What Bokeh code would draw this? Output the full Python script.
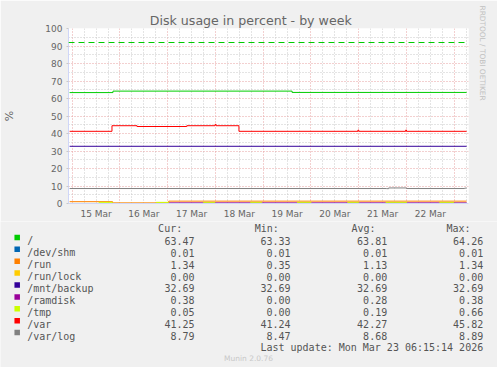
from bokeh.plotting import figure
from bokeh.models import Range1d, FixedTicker, Span, Title
from bokeh.core.properties import value
from bokeh.embed import file_html
from bokeh.resources import INLINE

# ---------------- data (x = hours since 14 Mar 00:00) ----------------
X_START, X_END = 22.15, 223.15
DAY_MIDNIGHTS = [24, 48, 72, 96, 120, 144, 168, 192, 216]
DAY_NOONS = [36, 60, 84, 108, 132, 156, 180, 204]
DAY_LABELS = ["15 Mar", "16 Mar", "17 Mar", "18 Mar", "19 Mar", "20 Mar", "21 Mar", "22 Mar"]
SIX_HOURS = [h for h in range(24, 223, 6) if h % 24]
Y_TICKS = [0, 10, 20, 30, 40, 50, 60, 70, 80, 90, 100]
Y_MINOR = [5, 15, 25, 35, 45, 55, 65, 75, 85, 95]
WARN_ROOT = 92

NAMES = ["/", "/dev/shm", "/run", "/run/lock", "/mnt/backup", "/ramdisk", "/tmp", "/var", "/var/log"]
COLORS = ["#00cc00", "#0066b3", "#ff8000", "#ffcc00", "#330099", "#990099", "#ccff00", "#ff0000", "#808080"]
CUR = [63.47, 0.01, 1.34, 0.00, 32.69, 0.38, 0.05, 41.25, 8.79]
MIN = [63.33, 0.01, 0.35, 0.00, 32.69, 0.00, 0.00, 41.24, 8.47]
AVG = [63.81, 0.01, 1.13, 0.00, 32.69, 0.28, 0.19, 42.27, 8.68]
MAX = [64.26, 0.01, 1.34, 0.00, 32.69, 0.38, 0.66, 45.82, 8.89]
LAST_UPDATE = "Last update: Mon Mar 23 06:15:14 2026"

ROOT_T = [22.7, 44.5, 134.5, 222.2]
ROOT_V = [63.38, 64.22, 63.47, 63.47]
SHM_T = [22.7, 222.2]
SHM_V = [0.01, 0.01]
RUN_T = [22.7, 44.3, 72.5, 222.2]
RUN_V = [1.05, 0.35, 1.34, 1.34]
LOCK_T = [22.7, 222.2]
LOCK_V = [0.00, 0.00]
BACKUP_T = [22.7, 222.2]
BACKUP_V = [32.69, 32.69]
RAMDISK_T = [22.7, 72.5, 222.2]
RAMDISK_V = [0.00, 0.38, 0.38]
TMP_T = [22.7, 37.5, 44.2, 66.2, 72.5, 90.0, 95.7, 113.7, 119.2, 137.2, 144.0,
         162.5, 168.0, 181.7, 192.0, 208.7, 215.7, 222.2]
TMP_V = [0.02, 0.66, 0.02, 0.66, 0.02, 0.66, 0.02, 0.66, 0.02, 0.66, 0.02,
         0.66, 0.02, 0.66, 0.02, 0.66, 0.05, 0.05]
VAR_T = [22.7, 44.0, 56.6, 81.6, 95.8, 96.3, 107.8, 167.6, 168.0, 191.6, 192.0, 222.2]
VAR_V = [41.25, 44.45, 44.0, 44.45, 45.2, 44.45, 41.25, 42.0, 41.25, 42.0, 41.25, 41.25]
VARLOG_T = [22.7, 182.0, 183.0, 192.0, 221.2, 222.2]
VARLOG_V = [8.55, 8.47, 8.89, 8.55, 8.79, 8.79]

SERIES_T = [ROOT_T, SHM_T, RUN_T, LOCK_T, BACKUP_T, RAMDISK_T, TMP_T, VAR_T, VARLOG_T]
SERIES_V = [ROOT_V, SHM_V, RUN_V, LOCK_V, BACKUP_V, RAMDISK_V, TMP_V, VAR_V, VARLOG_V]

FONT = "#666666"
AXIS_C = "#cfd6f8"

# ---------------- chart ----------------
p = figure(width=497, height=221, x_range=Range1d(X_START, X_END), y_range=Range1d(0, 100),
           output_backend="svg", toolbar_location=None,
           min_border_left=66, min_border_right=29, min_border_top=28, min_border_bottom=18)
p.background_fill_color = "#ffffff"
p.border_fill_color = "#f0f0f0"
p.outline_line_color = None

p.title.text = "Disk usage in percent - by week"
p.title.align = "left"
p.title.offset = 81.3
p.title.standoff = 2
p.title.text_font = "DejaVu Sans"
p.title.text_font_size = "12.6px"
p.title.text_font_style = "normal"
p.title.text_color = FONT

p.xgrid.ticker = FixedTicker(ticks=DAY_MIDNIGHTS, minor_ticks=SIX_HOURS)
p.ygrid.ticker = FixedTicker(ticks=Y_TICKS, minor_ticks=Y_MINOR)
for g in (p.xgrid, p.ygrid):
    g.grid_line_color = "#e6a0a0"
    g.grid_line_dash = "1 2"
    g.grid_line_width = 1
    g.minor_grid_line_color = "#c8c8c8"
    g.minor_grid_line_dash = "1 2"
    g.minor_grid_line_width = 1

p.xaxis.ticker = FixedTicker(ticks=DAY_NOONS)
p.xaxis.major_label_overrides = {t: l for t, l in zip(DAY_NOONS, DAY_LABELS)}
p.yaxis.ticker = FixedTicker(ticks=Y_TICKS)
for ax in (p.xaxis, p.yaxis):
    ax.axis_line_color = AXIS_C
    ax.major_label_text_font = "DejaVu Sans"
    ax.major_label_text_font_size = "9px"
    ax.major_label_text_color = FONT
    ax.minor_tick_line_color = None
p.xaxis.major_tick_line_color = None
p.xaxis.major_tick_out = 0
p.xaxis.major_tick_in = 0
p.xaxis.major_label_standoff = 5
p.yaxis.major_tick_line_color = "#c8c8c8"
p.yaxis.major_tick_out = 2
p.yaxis.major_tick_in = 0
p.yaxis.major_label_standoff = 4
p.yaxis.axis_label = "%"
p.yaxis.axis_label_standoff = 26
p.yaxis.axis_label_text_font = "DejaVu Sans"
p.yaxis.axis_label_text_font_size = "11px"
p.yaxis.axis_label_text_font_style = "normal"
p.yaxis.axis_label_text_color = FONT

p.add_layout(Title(text="RRDTOOL / TOBI OETIKER", align="left", offset=-23,
                   vertical_align="top", standoff=14, text_font="DejaVu Sans",
                   text_font_size="7.4px", text_font_style="normal",
                   text_color="#c0c0c0"), "right")

for t, v, c in zip(SERIES_T, SERIES_V, COLORS):
    p.step(t, v, mode="after", line_color=c, line_width=1)

p.add_layout(Span(location=WARN_ROOT, dimension="width", line_color="#00cc00",
                  line_dash="6 4", line_width=1))

# ---------------- legend (separate root, pixel coordinates) ----------------
LH = 146
q = figure(width=497, height=LH, x_range=Range1d(0, 497), y_range=Range1d(LH, 0),
           x_axis_type=None, y_axis_type=None, output_backend="svg",
           toolbar_location=None, min_border=0)
q.outline_line_color = None
q.background_fill_color = "#f0f0f0"
q.border_fill_color = "#f0f0f0"

MONO = value("DejaVu Sans Mono")
FS = value("10px")
LEG_C = "#555555"
row_y = [19.3 + 11.9 * i for i in range(len(NAMES))]

q.text(x=[181.7, 278.3, 375.0, 470.0], y=[7.0] * 4, text=["Cur:", "Min:", "Avg:", "Max:"],
       text_align="right", text_baseline="alphabetic", text_font=MONO,
       text_font_size=FS, text_color=LEG_C)
q.rect(x=[16.7] * len(NAMES), y=[y - 3.4 for y in row_y], width=5.5, height=5.5,
       fill_color=COLORS, line_color=None)
q.text(x=[26.7] * len(NAMES), y=row_y, text=NAMES, text_align="left",
       text_baseline="alphabetic", text_font=MONO, text_font_size=FS, text_color=LEG_C)
for colx, vals in zip([194.0, 290.0, 386.7, 482.7], [CUR, MIN, AVG, MAX]):
    q.text(x=[colx] * len(vals), y=row_y, text=["%.2f" % v for v in vals],
           text_align="right", text_baseline="alphabetic", text_font=MONO,
           text_font_size=FS, text_color=LEG_C)
q.text(x=[482.7], y=[126.3], text=[LAST_UPDATE], text_align="right",
       text_baseline="alphabetic", text_font=MONO, text_font_size=FS, text_color=LEG_C)
q.text(x=[248.0], y=[136.5], text=["Munin 2.0.76"], text_align="center",
       text_baseline="middle", text_font=value("DejaVu Sans"),
       text_font_size=value("7.5px"), text_color="#c8c8c8")

open("out.html", "w").write(file_html([p, q], INLINE))
